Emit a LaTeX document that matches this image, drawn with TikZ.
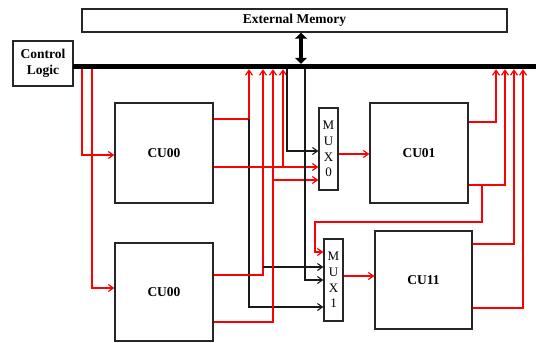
\documentclass[tikz,border=0pt]{standalone}
\usepackage{fontspec}
\setmainfont{Liberation Serif}
\usetikzlibrary{arrows.meta}
\begin{document}
\begin{tikzpicture}[x=1pt,y=-1pt,
  box/.style={draw=black!85,line width=1.3pt,inner sep=0pt,font=\fontsize{13.5}{16}\selectfont\bfseries,align=center},
  muxbox/.style={draw=black!85,line width=1.3pt,inner sep=0pt,minimum width=19pt,minimum height=82pt,font=\fontsize{13}{15.7}\selectfont,align=center},
  rl/.style={draw=red,line width=1.2pt,-{Straight Barb[length=5pt,width=7pt]}},
  bl/.style={draw=black!90,line width=1.1pt,-{Straight Barb[length=5pt,width=7pt]}},
  membus/.style={draw=black,line width=4pt,{Triangle[length=6pt,width=12pt]}-{Triangle[length=6pt,width=12pt]}}]
\useasboundingbox (0,0) rectangle (536,343);

% blocks
\node[box,minimum width=425pt,minimum height=23pt] (mem) at (294.5,20.5) {External Memory};
\node[box,minimum width=60pt,minimum height=45pt] (ctrl) at (43,63.5) {Control\\Logic};
\node[fill=black,inner sep=0pt,minimum width=463pt,minimum height=5pt] (bus) at (304.5,66.5) {};
\node[box,minimum width=98pt,minimum height=100pt] (cu00a) at (164,153) {CU00};
\node[box,minimum width=98pt,minimum height=98pt] (cu00b) at (164,292) {CU00};
\node[box,minimum width=98pt,minimum height=100pt] (cu01) at (419,153) {CU01};
\node[box,minimum width=97pt,minimum height=98pt] (cu11) at (423.5,280) {CU11};
\node[muxbox] (mux0) at (328.5,149) {M\\U\\X\\0};
\node[muxbox] (mux1) at (333.5,280) {M\\U\\X\\1};

% memory <-> bus
\draw[membus] (mem.south -| 301,0) -- (301,0 |- bus.north);

% control lines
\draw[rl] (82,0 |- bus.south) |- (cu00a.west |- 0,155);
\draw[rl] (92,0 |- bus.south) |- (cu00b.west |- 0,288);

% top CU00 outputs
\draw[rl] (cu00a.east |- 0,119) -| (249,0 |- bus.south);
\draw[bl] (249,119) |- (mux1.west |- 0,307);
\draw[rl] (cu00a.east |- 0,167) -- (mux0.west |- 0,167);
\draw[rl] (283,167) -- (283,0 |- bus.south);

% bottom CU00 outputs
\draw[rl] (cu00b.east |- 0,275) -| (263,0 |- bus.south);
\draw[bl] (263,267) -- (mux1.west |- 0,267);
\draw[rl] (cu00b.east |- 0,322) -| (273,0 |- bus.south);
\draw[rl] (273,180) -- (mux0.west |- 0,180);

% bus to MUX
\draw[bl] (287,0 |- bus.south) |- (mux0.west |- 0,151);
\draw[bl] (305,0 |- bus.south) |- (mux1.west |- 0,280);

% MUX outputs
\draw[rl] (mux0.east |- 0,154) -- (cu01.west |- 0,154);
\draw[rl] (mux1.east |- 0,276) -- (cu11.west |- 0,276);

% CU01 outputs
\draw[rl] (cu01.east |- 0,122) -| (496,0 |- bus.south);
\draw[rl] (cu01.east |- 0,185) -| (505,0 |- bus.south);
\draw[rl] (482,185) -- (482,222) -- (315,222) |- (mux1.west |- 0,252);

% CU11 outputs
\draw[rl] (cu11.east |- 0,244) -| (514,0 |- bus.south);
\draw[rl] (cu11.east |- 0,308) -| (523,0 |- bus.south);
\end{tikzpicture}
\end{document}
